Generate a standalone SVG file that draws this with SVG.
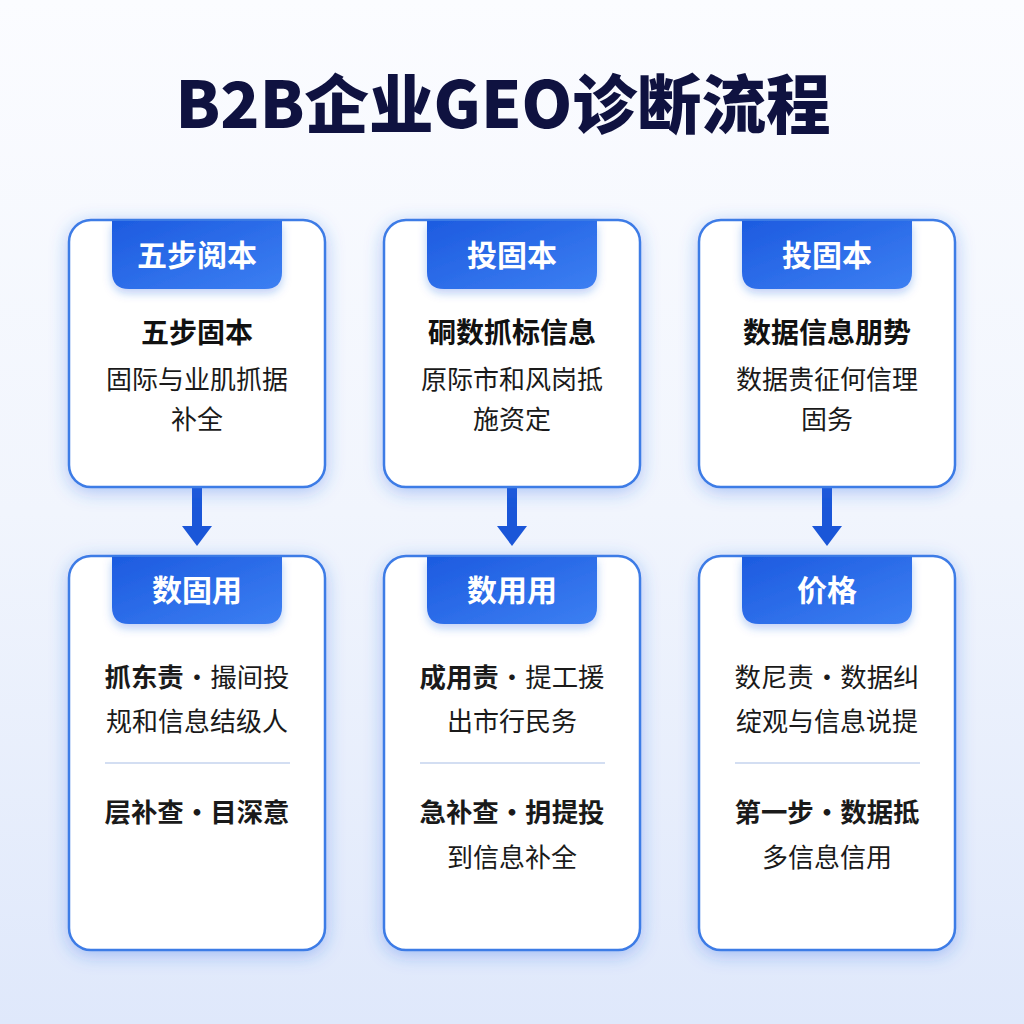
<svg xmlns="http://www.w3.org/2000/svg" width="1024" height="1024" viewBox="0 0 1024 1024">
<defs>
<linearGradient id="bg" x1="0" y1="0" x2="0" y2="1">
<stop offset="0" stop-color="#fbfcff"/>
<stop offset="0.5" stop-color="#f1f5fd"/>
<stop offset="1" stop-color="#dfe8fb"/>
</linearGradient>
<linearGradient id="tab" x1="0" y1="0" x2="1" y2="1">
<stop offset="0" stop-color="#1d5be0"/>
<stop offset="1" stop-color="#3c7ff2"/>
</linearGradient>
<filter id="glow" x="-20%" y="-20%" width="140%" height="140%">
<feDropShadow dx="0" dy="4" stdDeviation="9" flood-color="#2f66e6" flood-opacity="0.35"/>
</filter>
<filter id="tabsh" x="-20%" y="-20%" width="140%" height="160%">
<feDropShadow dx="0" dy="4" stdDeviation="5" flood-color="#1d5be0" flood-opacity="0.3"/>
</filter>
<marker id="ah" viewBox="0 0 20 30" refX="0" refY="15" markerWidth="20" markerHeight="30" markerUnits="userSpaceOnUse" orient="auto">
<path d="M0 0 L20 15 L0 30 Z" fill="#1a56d8"/>
</marker>
</defs>
<style>
.card{fill:#ffffff;stroke:#3d7be6;stroke-width:2.5;filter:url(#glow)}
.tab{fill:url(#tab);filter:url(#tabsh)}
.tabt{font-family:"Noto Sans CJK SC","Noto Sans",sans-serif;font-weight:700;font-size:30px;fill:#ffffff;text-anchor:middle}
.h{font-family:"Noto Sans CJK SC","Noto Sans",sans-serif;font-weight:700;font-size:28px;fill:#111111;text-anchor:middle}
.t{font-family:"Noto Sans CJK SC","Noto Sans",sans-serif;font-weight:400;font-size:26px;fill:#1a1a1a;text-anchor:middle}
.b{font-weight:700}
.div{stroke:#d3def2;stroke-width:2}
.conn{stroke:#1a56d8;stroke-width:10;fill:none}
.title{font-family:"Noto Sans CJK SC","Noto Sans",sans-serif;font-weight:900;font-size:64px;fill:#0f1240;text-anchor:middle}
</style>
<rect x="0" y="0" width="1024" height="1024" fill="url(#bg)"/>
<text class="title" x="503" y="128" textLength="655" lengthAdjust="spacingAndGlyphs">B2B企业GEO诊断流程</text>

<g id="connectors">
<line class="conn" x1="197" y1="488" x2="197" y2="526" marker-end="url(#ah)"/>
<line class="conn" x1="512" y1="488" x2="512" y2="526" marker-end="url(#ah)"/>
<line class="conn" x1="827" y1="488" x2="827" y2="526" marker-end="url(#ah)"/>
</g>

<g id="node-top-1">
<rect class="card" x="69" y="220" width="256" height="267" rx="22"/>
<path class="tab" d="M112 221 H282 V272 Q282 289 265 289 H129 Q112 289 112 272 Z"/>
<text class="tabt" x="197" y="266">五步阅本</text>
<text class="h" x="197" y="343">五步固本</text>
<text class="t" x="197" y="389">固际与业肌抓据</text>
<text class="t" x="197" y="429">补全</text>
</g>

<g id="node-top-2">
<rect class="card" x="384" y="220" width="256" height="267" rx="22"/>
<path class="tab" d="M427 221 H597 V272 Q597 289 580 289 H444 Q427 289 427 272 Z"/>
<text class="tabt" x="512" y="266">投固本</text>
<text class="h" x="512" y="343">硐数抓标信息</text>
<text class="t" x="512" y="389">原际市和风岗抵</text>
<text class="t" x="512" y="429">施资定</text>
</g>

<g id="node-top-3">
<rect class="card" x="699" y="220" width="256" height="267" rx="22"/>
<path class="tab" d="M742 221 H912 V272 Q912 289 895 289 H759 Q742 289 742 272 Z"/>
<text class="tabt" x="827" y="266">投固本</text>
<text class="h" x="827" y="343">数据信息朋势</text>
<text class="t" x="827" y="389">数据贵征何信理</text>
<text class="t" x="827" y="429">固务</text>
</g>

<g id="node-bottom-1">
<rect class="card" x="69" y="556" width="256" height="394" rx="22"/>
<path class="tab" d="M112 557 H282 V607 Q282 624 265 624 H129 Q112 624 112 607 Z"/>
<text class="tabt" x="197" y="601">数固用</text>
<text class="t" x="197" y="687" textLength="185" lengthAdjust="spacingAndGlyphs"><tspan class="b">抓东责</tspan>·撮间投</text>
<text class="t" x="197" y="731">规和信息结级人</text>
<line class="div" x1="105" y1="763" x2="290" y2="763"/>
<text class="t b" x="197" y="822" textLength="185" lengthAdjust="spacingAndGlyphs">层补查·目深意</text>
</g>

<g id="node-bottom-2">
<rect class="card" x="384" y="556" width="256" height="394" rx="22"/>
<path class="tab" d="M427 557 H597 V607 Q597 624 580 624 H444 Q427 624 427 607 Z"/>
<text class="tabt" x="512" y="601">数用用</text>
<text class="t" x="512" y="687" textLength="185" lengthAdjust="spacingAndGlyphs"><tspan class="b">成用责</tspan>·提工援</text>
<text class="t" x="512" y="731">出市行民务</text>
<line class="div" x1="420" y1="763" x2="605" y2="763"/>
<text class="t b" x="512" y="822" textLength="185" lengthAdjust="spacingAndGlyphs">急补查·抈提投</text>
<text class="t" x="512" y="867">到信息补全</text>
</g>

<g id="node-bottom-3">
<rect class="card" x="699" y="556" width="256" height="394" rx="22"/>
<path class="tab" d="M742 557 H912 V607 Q912 624 895 624 H759 Q742 624 742 607 Z"/>
<text class="tabt" x="827" y="601">价格</text>
<text class="t" x="827" y="687" textLength="185" lengthAdjust="spacingAndGlyphs">数尼责·数据纠</text>
<text class="t" x="827" y="731">绽观与信息说提</text>
<line class="div" x1="735" y1="763" x2="920" y2="763"/>
<text class="t b" x="827" y="822" textLength="185" lengthAdjust="spacingAndGlyphs">第一步·数据抵</text>
<text class="t" x="827" y="867">多信息信用</text>
</g>
</svg>
